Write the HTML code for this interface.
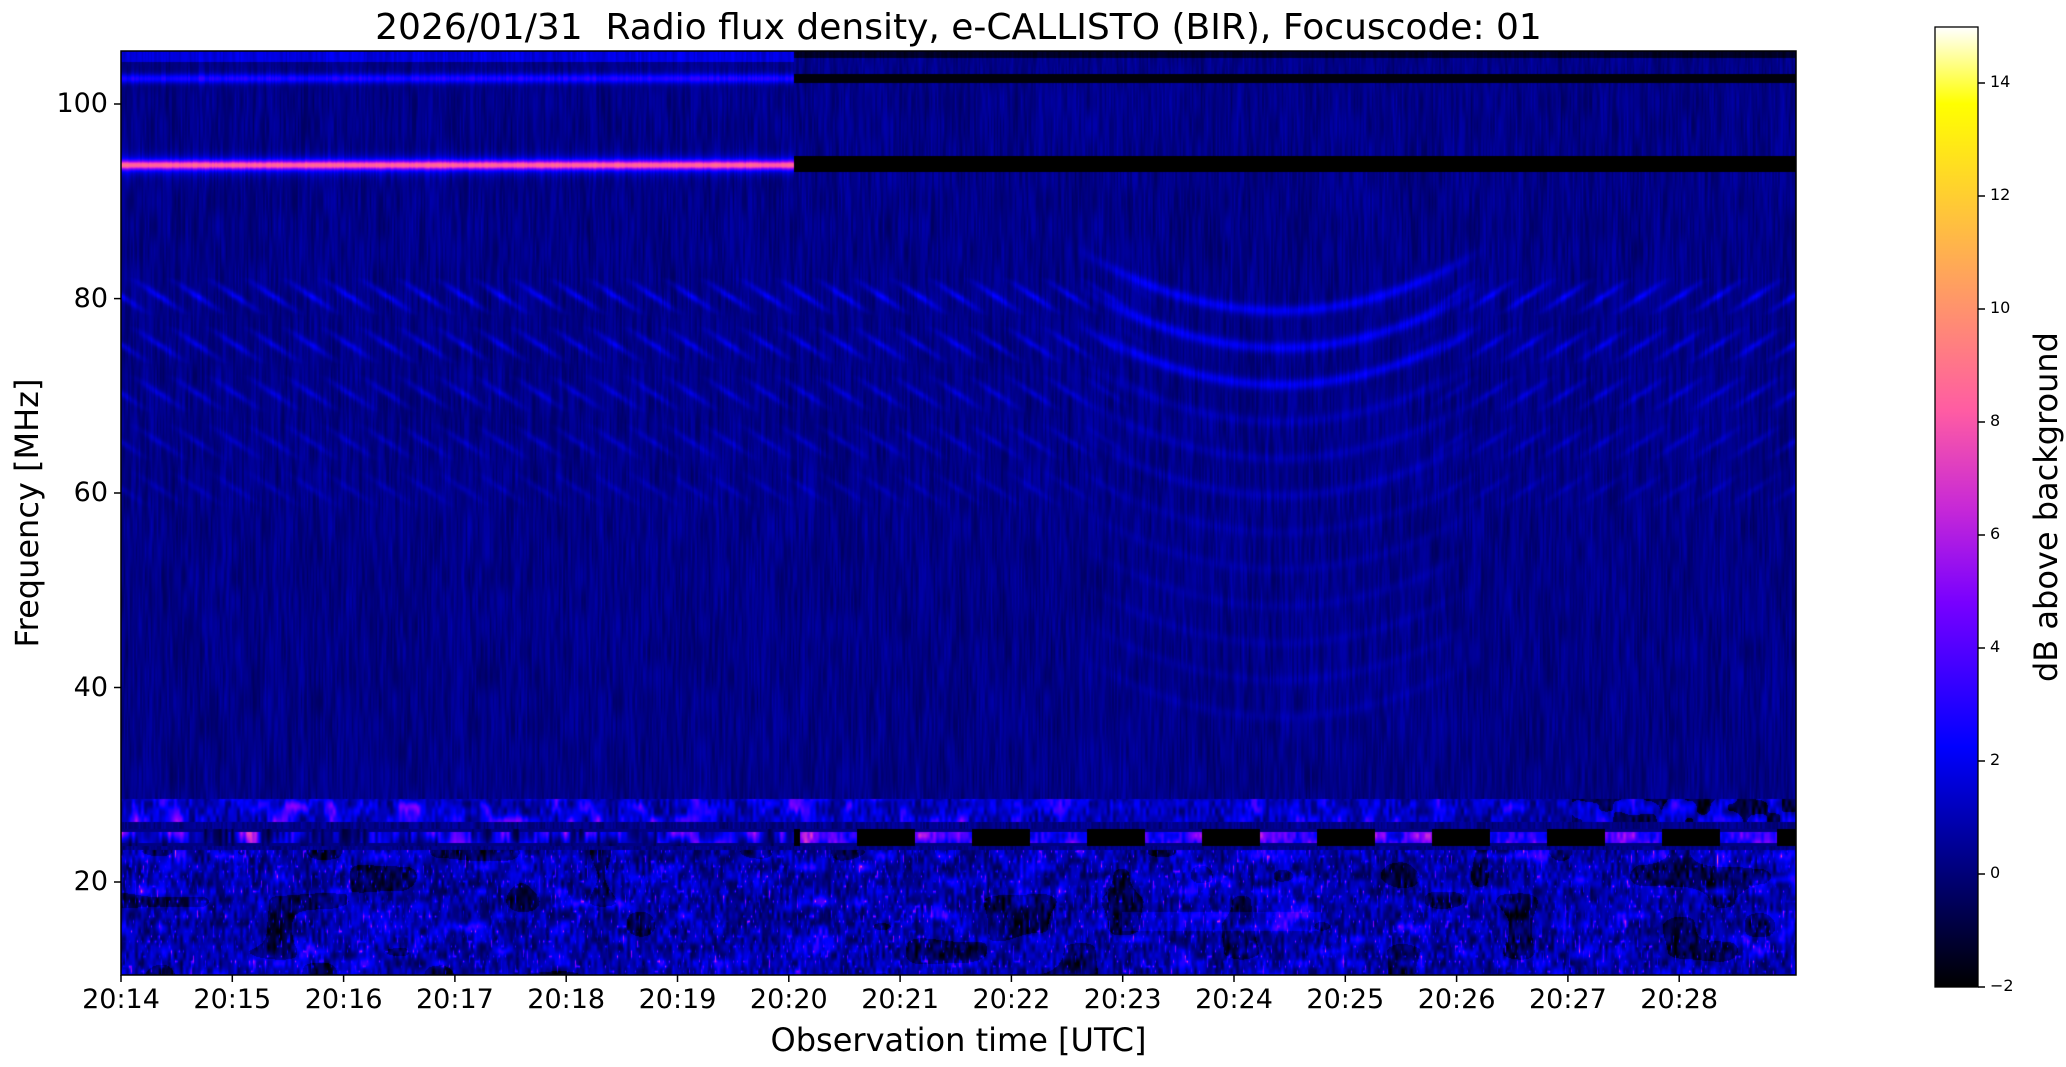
<!DOCTYPE html>
<html><head><meta charset="utf-8">
<style>
html,body{margin:0;padding:0;background:#fff;}
#wrap{position:relative;width:2066px;height:1067px;overflow:hidden;font-family:"DejaVu Sans","Liberation Sans",sans-serif;color:#000;}
canvas{position:absolute;left:121px;top:51px;}
.t{position:absolute;white-space:pre;line-height:1;}
</style></head><body>
<div id="wrap">
<canvas id="c" width="1675" height="924"></canvas>
<div id="cb" style="position:absolute;left:1935px;top:27px;width:43px;height:960px;background:linear-gradient(to top,#000000 0%,#000066 10%,#0000cc 20%,#0000ff 25%,#2800ff 30%,#7800ff 40%,#c829d6 50%,#ff5ca3 60%,#ff8f70 70%,#ffc23d 80%,#fff50a 90%,#ffff00 92%,#ffffff 100%);"></div>
<svg width="2066" height="1067" style="position:absolute;left:0;top:0" xmlns="http://www.w3.org/2000/svg">
<rect x="121" y="51" width="1675" height="924" fill="none" stroke="#000" stroke-width="1.5"/>
<rect x="1935" y="27" width="43" height="960" fill="none" stroke="#000" stroke-width="1.3"/>
<g stroke="#000" stroke-width="1.5" id="ticks"></g>
</svg>
<div class="t" style="left:0;width:1917px;top:10px;text-align:center;font-size:36px;">2026/01/31  Radio flux density, e-CALLISTO (BIR), Focuscode: 01</div>
<div class="t" style="left:0;width:1917px;top:1024px;text-align:center;font-size:32px;">Observation time [UTC]</div>
<div class="t" style="left:27px;top:513px;font-size:32px;transform:translate(-50%,-50%) rotate(-90deg);">Frequency [MHz]</div>
<div class="t" style="left:2046px;top:507px;font-size:32px;transform:translate(-50%,-50%) rotate(-90deg);">dB above background</div>
<div id="labels"></div>
</div>
<script>
(function(){
var tg=document.getElementById('ticks'),lb=document.getElementById('labels'),s='',h='';
var yt=[[20,882],[40,687.5],[60,493],[80,298.6],[100,104]];
yt.forEach(function(a){s+='<line x1="114" y1="'+a[1]+'" x2="121" y2="'+a[1]+'"/>';
h+='<div class="t" style="left:0;width:108px;text-align:right;top:'+(a[1]-14)+'px;font-size:27px;">'+a[0]+'</div>';});
for(var i=0;i<15;i++){var x=121+i*111.3;s+='<line x1="'+x+'" y1="975" x2="'+x+'" y2="982"/>';
h+='<div class="t" style="left:'+(x-60)+'px;width:120px;text-align:center;top:986px;font-size:27px;">20:'+(14+i)+'</div>';}
for(var v=-2;v<=14;v+=2){var y=987-(v+2)*56.5;s+='<line x1="1978" y1="'+y+'" x2="1985" y2="'+y+'"/>';
h+='<div class="t" style="left:1990px;top:'+(y-9)+'px;font-size:16px;">'+(v<0?'\u22122':v)+'</div>';}
tg.innerHTML=s;lb.innerHTML=h;
})();
(function(){
var W=1675,H=924,cv=document.getElementById('c'),ctx=cv.getContext('2d'),img=ctx.createImageData(W,H),d=img.data;
function hsh(i,j,k){var n=((i*374761393+j*668265263+k*1442695041)>>>0);n=((n^(n>>>13))*1274126177)>>>0;return (n%100000)/100000;}
function vn(x,y,sx,sy,k){var fx=x/sx,fy=y/sy,ix=Math.floor(fx),iy=Math.floor(fy),tx=fx-ix,ty=fy-iy;
tx=tx*tx*(3-2*tx);ty=ty*ty*(3-2*ty);
var a=hsh(ix,iy,k),b=hsh(ix+1,iy,k),c=hsh(ix,iy+1,k),e=hsh(ix+1,iy+1,k);
return (a*(1-tx)+b*tx)*(1-ty)+(c*(1-tx)+e*tx)*ty;}
function clip(v){return v<0?0:v>1?1:v;}
var rows=[80.3,75.3,70.3,65.3,60.5];
var xc=1159;
for(var y=0;y<H;y++){
var fr=20+(831-y)/9.72;
for(var x=0;x<W;x++){
var left=x<673;
var v=0.25+1.0*(vn(x,y,1.5,25,1)-0.5)+0.5*(vn(x,y,6,60,2)-0.5);
if(fr>83){
 if(left){
  if(fr>104.4)v+=1.5;
  v+=2.6*Math.exp(-Math.pow((fr-102.7)/0.5,2));
  v+=6.3*Math.exp(-Math.pow((fr-93.8)/0.45,2))+2*Math.exp(-Math.pow((fr-93.8)/1.0,2));
 }else{
  if(fr>104.8)v=-1.5+v*0.5;
  if(Math.abs(fr-102.7)<0.45)v=-1.8;
  if(Math.abs(fr-93.9)<0.85)v=-2;
 }
}
var dx=x-xc,adx=Math.abs(dx);
if(fr>57&&fr<84&&adx>120){
 var amp=adx<220?(adx-120)/100:1;
 var sg=dx<0?-1:1;
 for(var r=0;r<rows.length;r++){var rc=rows[r];var df=fr-rc;if(Math.abs(df)<2){
  var u=x/38+sg*(rc-fr)*0.365;var w=u-Math.round(u);
  v+=amp*(1.9-r*0.3)*Math.exp(-w*w/0.025)*(1-Math.abs(df)/2);}}
}
// arcs
var dc=dx/130;
if(Math.abs(dc)<1.6){
 var fade=Math.abs(dc)<1.1?1:(1.6-Math.abs(dc))/0.5;
 for(var k=0;k<12;k++){var fk=78.8-3.8*k;var af=fk+2.6*dc*dc;
  var dd=fr-af;if(Math.abs(dd)<2){var a=(k<3?1.7:k<6?0.6:0.35)*fade;v+=a*Math.exp(-dd*dd/0.35);}}
}
if(fr<29){
 var n1=vn(x,y,3,8,3),n2=vn(x,y,14,14,4);
 if(fr>26.2&&fr<28.6){v=0.6+2.4*(n1-0.4)+2.6*Math.pow(n2,3)*(x<900?1.8:1);if(x>1450&&n2<0.5)v-=1.8;}
 else if(fr>23.8&&fr<25.5){
  var seg=(x/57.5+0.2)%2,on=seg<1;
  if(left){v=-1.6+vn(x,y,3,30,5)*3.2+Math.pow(vn(x,y,12,20,6),3)*7;}
  else if(on){v=0.8+2.5*n1+5*Math.pow(n2,2);}else v=-2;
  var e=Math.min(fr-23.8,25.5-fr);if(e<0.3)v=Math.min(v,0.2);
 }
 else if(fr<23.3){
  v=0.1+2.6*(n1-0.35)+2.5*Math.pow(vn(x,y,20,12,7),4)+(Math.pow(vn(x,y,2,5,8),10)*5);
  if(fr<17&&fr>15&&x>1000&&x<1200)v+=1.0;
  if(vn(x,y,40,25,9)>0.75)v-=1.4;
 }
}
var t=clip((v+2)/17);
var R=clip(t/0.32-0.78),G=clip(2*t-0.84),B=t<0.25?4*t:t<0.92?clip(-2*t+1.84):clip(t/0.08-11.5);
var p=(y*W+x)*4;d[p]=R*255;d[p+1]=G*255;d[p+2]=B*255;d[p+3]=255;
}}
ctx.putImageData(img,0,0);
})();
</script>
</body></html>
